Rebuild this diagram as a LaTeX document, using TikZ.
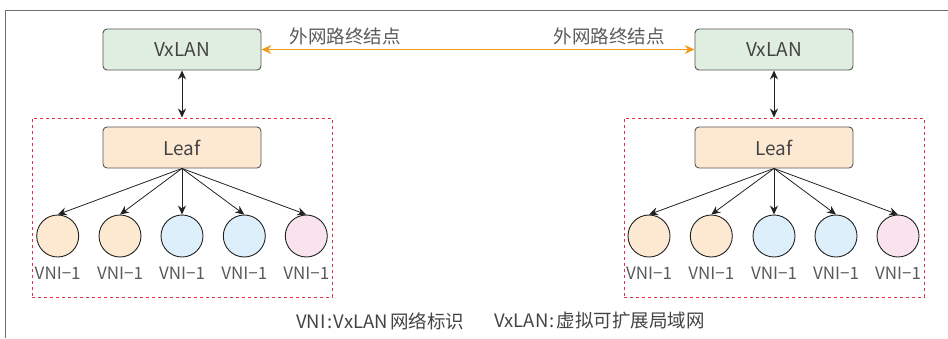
\documentclass[tikz,border=0pt]{standalone}
\usepackage{fontspec}
\setmainfont{Noto Sans CJK SC}
\usetikzlibrary{arrows.meta}
\definecolor{framec}{HTML}{6E6E6E}
\definecolor{boxborder}{HTML}{555555}
\definecolor{textc}{HTML}{444444}
\definecolor{lightt}{HTML}{5A5A5A}
\definecolor{greenf}{HTML}{DFEEDF}
\definecolor{orangef}{HTML}{FDE9D1}
\definecolor{bluef}{HTML}{DDEFFA}
\definecolor{pinkf}{HTML}{F9E4EE}
\definecolor{reddash}{HTML}{E0304A}
\definecolor{orangeline}{HTML}{F09A1A}
\definecolor{arrc}{HTML}{222222}
\tikzset{
  rbox/.style={rectangle, rounded corners=4pt, draw=boxborder, line width=0.9pt,
    minimum width=158pt, minimum height=41pt, inner sep=0pt,
    font=\fontsize{19}{22}\selectfont, text=textc},
  vxbox/.style={rbox, fill=greenf},
  leafbox/.style={rbox, fill=orangef},
  groupbox/.style={rectangle, draw=reddash, line width=1pt, dash pattern=on 3pt off 3pt,
    minimum width=300pt, minimum height=179pt, inner sep=0pt},
  vni/.style={circle, draw=arrc, line width=0.9pt, minimum size=42pt, inner sep=0pt},
  vnilbl/.style={font=\fontsize{17}{19}\selectfont, text=lightt, inner sep=0pt},
  toplbl/.style={font=\fontsize{18.5}{21}\selectfont, text=lightt, inner sep=0pt},
  botlbl/.style={font=\fontsize{18.5}{21}\selectfont, text=textc, inner sep=0pt, anchor=west},
  arr/.style={draw=arrc, line width=0.8pt, -{Stealth[length=9pt,width=8pt,inset=3pt]}},
  darr/.style={draw=arrc, line width=0.8pt, {Stealth[length=9pt,width=8pt,inset=3pt]}-{Stealth[length=9pt,width=8pt,inset=3pt]}},
  oarr/.style={draw=orangeline, line width=1pt, {Stealth[length=10pt,width=9pt,inset=3.5pt]}-{Stealth[length=10pt,width=9pt,inset=3.5pt]}}
}
\begin{document}
\begin{tikzpicture}[x=1pt,y=-1pt]
\useasboundingbox (0,0) rectangle (948,338);
\draw[framec, line width=1.5pt] (5.5,338) -- (5.5,10.5) -- (948,10.5);

% left side
\node[groupbox] (gl) at (182,207.5) {};
\node[vxbox] (vl) at (182,49.5) {VxLAN};
\node[leafbox] (ll) at (182,147.5) {Leaf};
\node[vni, fill=orangef] (l1) at (57.7,236) {};
\node[vni, fill=orangef] (l2) at (120,236) {};
\node[vni, fill=bluef] (l3) at (182,236) {};
\node[vni, fill=bluef] (l4) at (244.3,236) {};
\node[vni, fill=pinkf] (l5) at (306.3,236) {};
\foreach \i/\x in {1/57.7,2/120,3/182,4/244.3,5/306.3}{
  \node[vnilbl] (l\i t) at (\x,273) {VNI−1};
  \draw[arr] (ll.south) -- (l\i.north);
}
\draw[darr] (vl.south) -- (gl.north);

% right side
\node[groupbox] (gr) at (774,207.5) {};
\node[vxbox] (vr) at (774,49.5) {VxLAN};
\node[leafbox] (lr) at (774,147.5) {Leaf};
\node[vni, fill=orangef] (r1) at (649,236) {};
\node[vni, fill=orangef] (r2) at (711.3,236) {};
\node[vni, fill=bluef] (r3) at (774,236) {};
\node[vni, fill=bluef] (r4) at (836,236) {};
\node[vni, fill=pinkf] (r5) at (898,236) {};
\foreach \i/\x in {1/649,2/711.3,3/774,4/836,5/898}{
  \node[vnilbl] (r\i t) at (\x,273) {VNI−1};
  \draw[arr] (lr.south) -- (r\i.north);
}
\draw[darr] (vr.south) -- (gr.north);

% connection
\draw[oarr] (vl.east) -- (vr.west);
\node[toplbl] (tl) at (345,36) {外网路终结点};
\node[toplbl] (tr) at (609,36) {外网路终结点};

% legend
\node[botlbl] (leg1) at (296,321) {VNI\hspace{1.5pt}:\hspace{1.5pt}VxLAN\hspace{2pt}网络标识};
\node[botlbl] (leg2) at (494,321) {VxLAN\hspace{1.5pt}:\hspace{1.5pt}虚拟可扩展局域网};
\end{tikzpicture}
\end{document}
